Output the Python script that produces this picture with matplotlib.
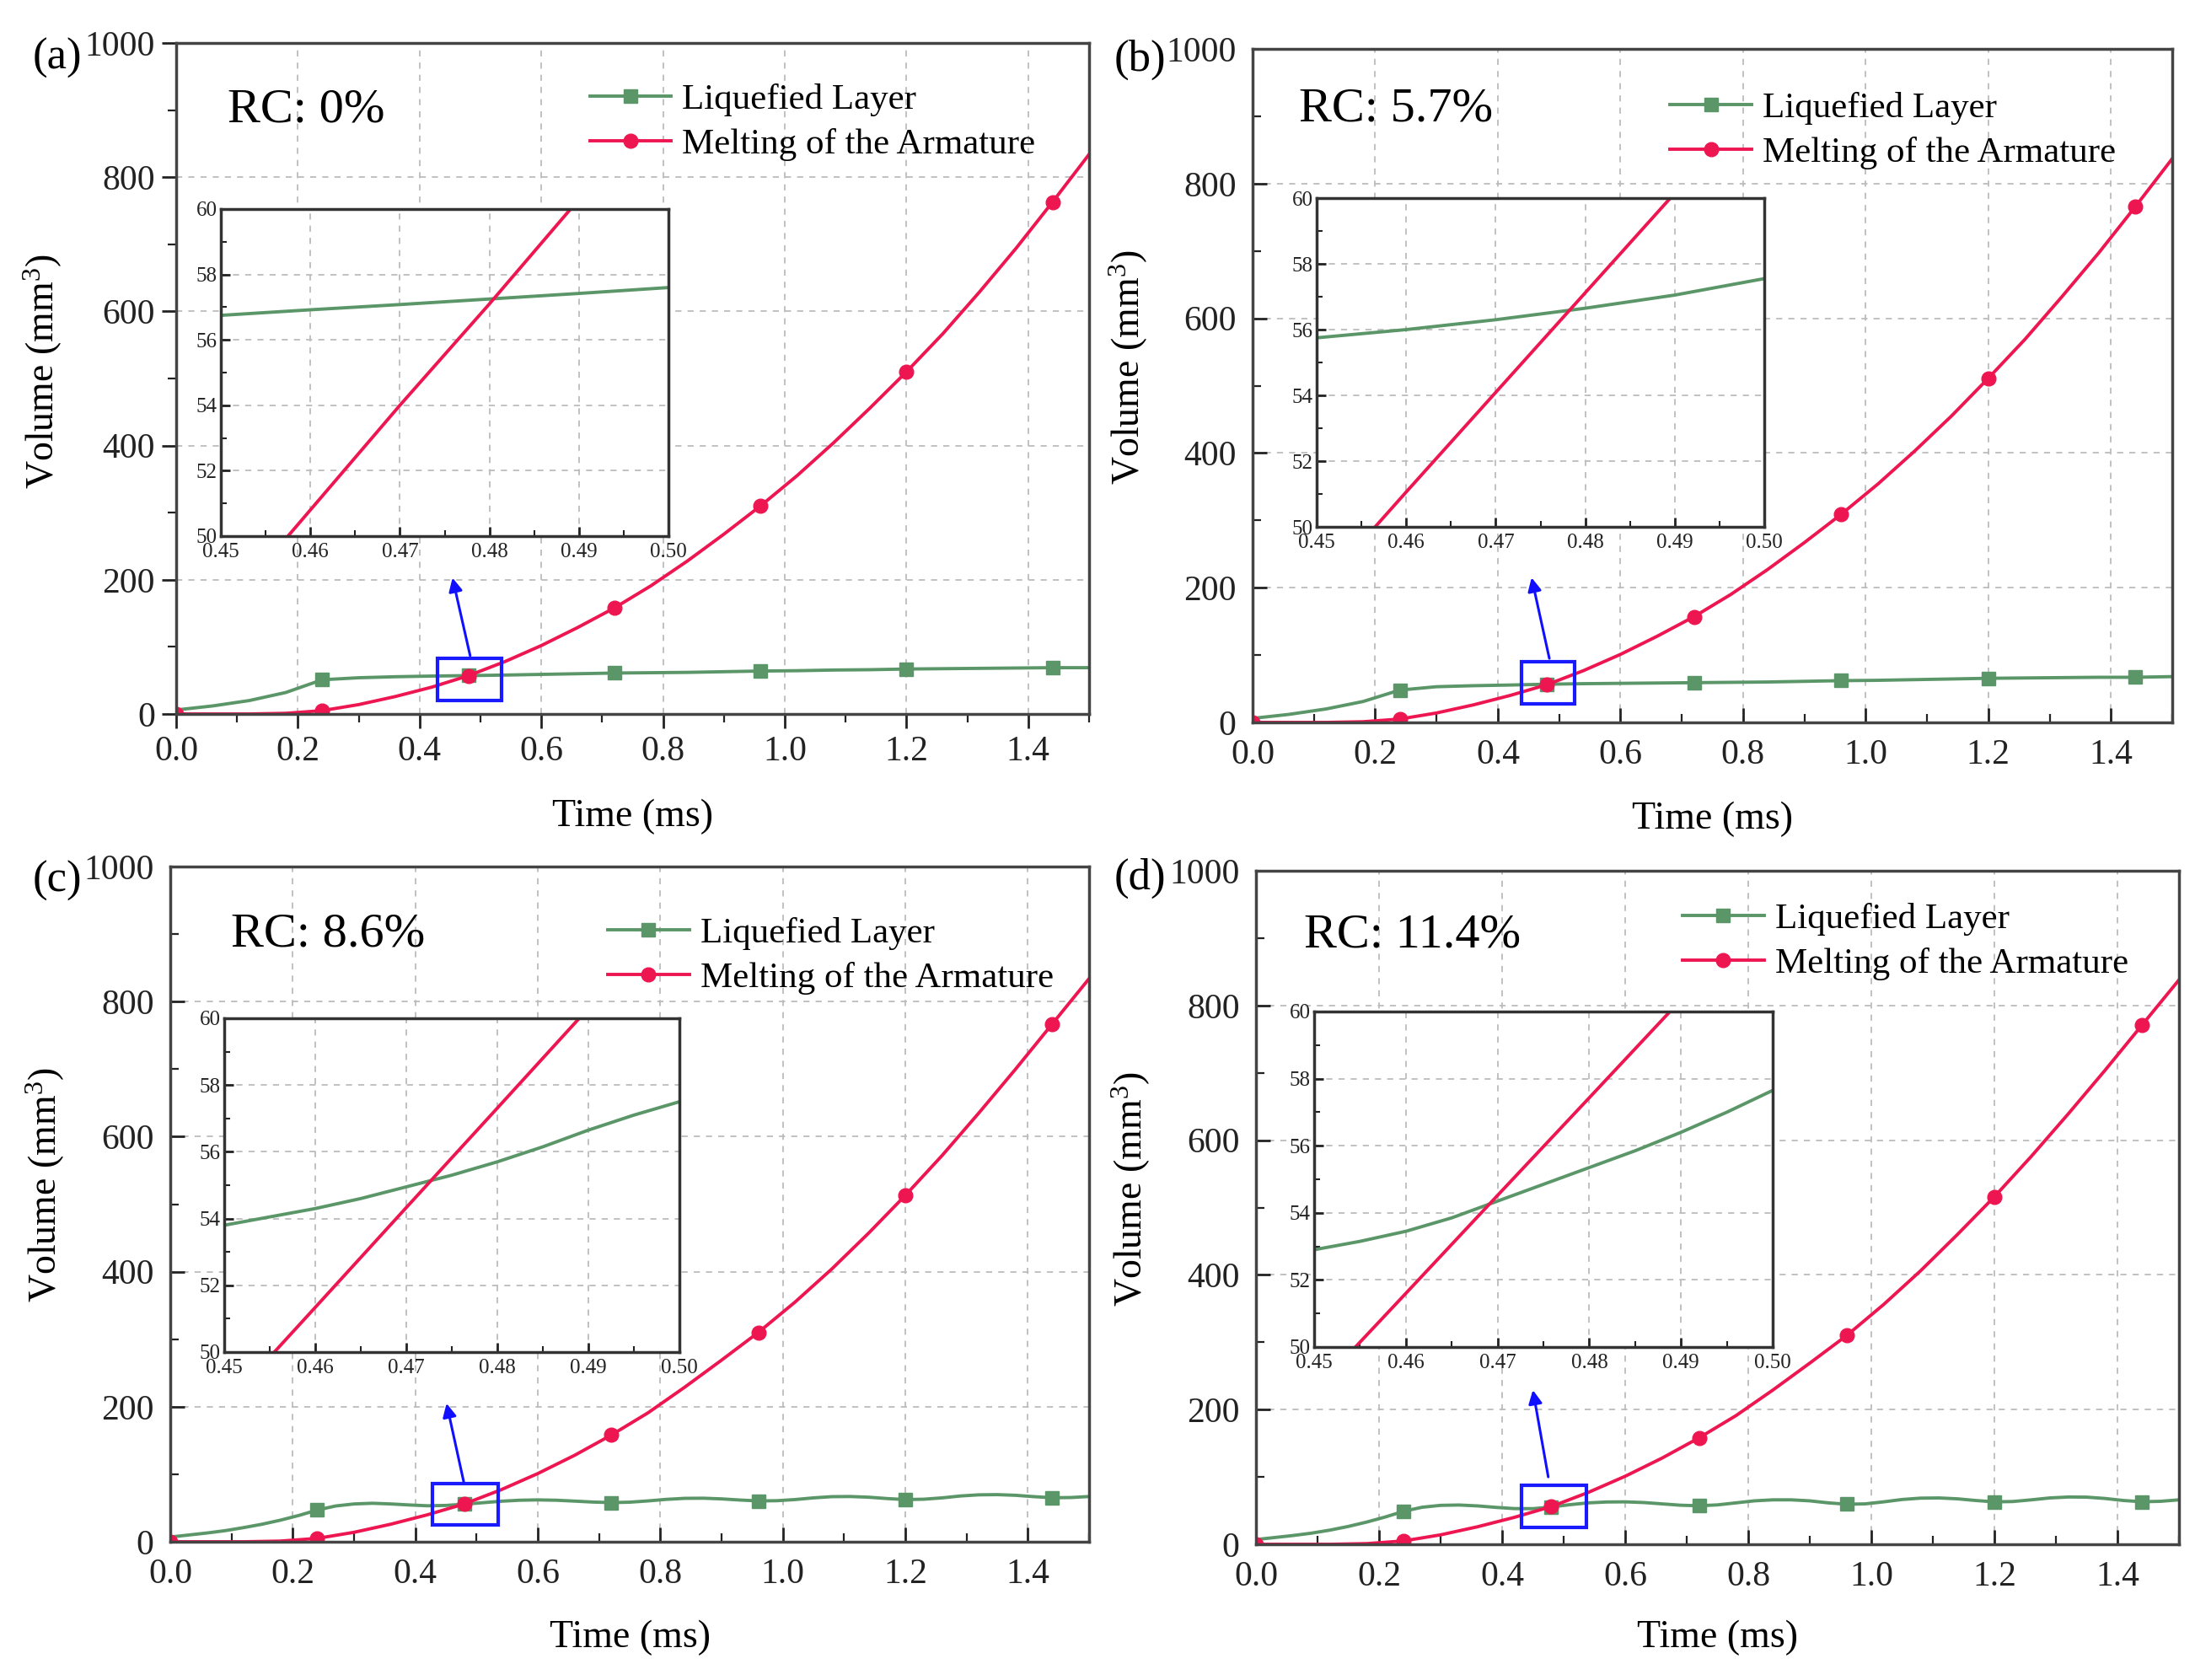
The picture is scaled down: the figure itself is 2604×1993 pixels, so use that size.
import numpy as np
import matplotlib
matplotlib.use('Agg')
import matplotlib.pyplot as plt
from matplotlib.patches import Rectangle
from matplotlib.ticker import MultipleLocator, FormatStrFormatter

plt.rcParams['font.family'] = 'serif'
plt.rcParams['font.serif'] = ['Liberation Serif', 'DejaVu Serif']
plt.rcParams['mathtext.fontset'] = 'custom'
plt.rcParams['mathtext.rm'] = 'Liberation Serif'
plt.rcParams['mathtext.it'] = 'Liberation Serif:italic'

# ---- data ----
t = [0.00, 0.06, 0.12, 0.18, 0.24, 0.30, 0.36, 0.42, 0.48, 0.54, 0.60, 0.66, 0.72,
     0.78, 0.84, 0.90, 0.96, 1.02, 1.08, 1.14, 1.20, 1.26, 1.32, 1.38, 1.44, 1.50]
t_fine = [0.00, 0.03, 0.06, 0.09, 0.12, 0.15, 0.18, 0.21, 0.24, 0.27, 0.30, 0.33, 0.36,
          0.39, 0.42, 0.45, 0.48, 0.51, 0.54, 0.57, 0.60, 0.63, 0.66, 0.69, 0.72, 0.75,
          0.78, 0.81, 0.84, 0.87, 0.90, 0.93, 0.96, 0.99, 1.02, 1.05, 1.08, 1.11, 1.14,
          1.17, 1.20, 1.23, 1.26, 1.29, 1.32, 1.35, 1.38, 1.41, 1.44, 1.47, 1.50]

melt_a = [0, 0, 0, 1, 5, 14, 26, 40, 57, 78, 102, 129, 158, 191, 228, 268, 310, 355,
          404, 456, 510, 567, 629, 694, 763, 834]
melt_b = [0, 0, 0, 1, 5, 14, 26, 40, 56, 77, 101, 128, 157, 190, 227, 267, 309, 354,
          403, 455, 511, 569, 632, 697, 766, 837]
melt_c = [0, 0, 0, 1, 5, 14, 26, 40, 56, 77, 101, 128, 158, 191, 229, 269, 310, 355,
          404, 457, 513, 572, 635, 700, 767, 834]
melt_d = [0, 0, 0, 1, 5, 14, 26, 40, 56, 77, 101, 128, 158, 191, 229, 269, 310, 356,
          406, 460, 516, 576, 639, 704, 771, 838]

liq_a = [6, 12, 20, 32, 51, 54, 55.5, 56.5, 57.2, 58, 59, 60, 61, 61.5, 62, 63, 64,
         64.5, 65.5, 66, 67, 67.5, 68, 68.5, 69, 69]
liq_b = [6, 12, 20, 31, 48, 53, 54.5, 55.5, 56.7, 57.5, 58, 58.5, 59, 59.5, 60, 61, 62,
         62.5, 63.5, 64.5, 65.5, 66, 66.5, 67, 67, 68]
liq_c = [7, 10, 13, 16.5, 21, 26, 32, 39, 47, 53, 56, 57, 56, 54.5, 53.3, 53.8, 55.7,
         57.8, 60, 61.5, 62, 61.5, 60.2, 58.8, 58, 58.6, 60.5, 62.8, 64.3, 64.5, 63.5,
         61.8, 60.5, 60.8, 62.5, 65, 66.8, 67, 66, 64, 62.5, 63, 65, 67.8, 69.5, 69.8,
         68.8, 66.8, 65.2, 65.5, 67]
liq_d = [7, 10, 13, 16.5, 21, 26.5, 33, 40.5, 49, 55, 57.8, 58.3, 57, 54.8, 53, 52.9,
         55.35, 58.8, 61.5, 62.8, 63, 62, 60, 58, 57.2, 58.5, 61.5, 64.5, 66, 66, 64.5,
         61.5, 59.5, 60, 63, 66.5, 68.5, 68.8, 67.5, 65, 63, 63.5, 66, 68.8, 70.2, 70,
         68, 65, 63.2, 63.8, 66]

# zoomed insets (0.45 - 0.50 ms)
t_in = [0.45, 0.46, 0.47, 0.48, 0.49, 0.50]
t_in_fine = [0.45, 0.455, 0.46, 0.465, 0.47, 0.475, 0.48, 0.485, 0.49, 0.495, 0.50]
melt_in_a = [47.6, 50.8, 54.0, 57.1, 60.3, 63.5]
melt_in_b = [48.0, 51.06, 54.09, 57.12, 60.15, 63.18]
melt_in_c = [48.36, 51.34, 54.33, 57.31, 60.3, 63.28]
melt_in_d = [48.69, 51.6, 54.52, 57.43, 60.35, 63.26]
liq_in_a = [56.75, 56.92, 57.08, 57.25, 57.42, 57.6]
liq_in_b = [55.75, 56.0, 56.3, 56.65, 57.05, 57.55]
liq_in_c = [53.8, 54.05, 54.3, 54.6, 54.95, 55.3, 55.7, 56.15, 56.65, 57.1, 57.5]
liq_in_d = [52.9, 53.15, 53.45, 53.85, 54.35, 54.85, 55.35, 55.85, 56.4, 57.0, 57.65]

panel_labels = ['(a)', '(b)', '(c)', '(d)']
rc_labels = ['RC: 0%', 'RC: 5.7%', 'RC: 8.6%', 'RC: 11.4%']

W, H = 2604, 1993
GREEN = '#5b9669'
RED = '#ee1651'

def frac(l, t_, r, b):
    return [l / W, 1 - b / H, (r - l) / W, (b - t_) / H]

panels = [
    dict(main=(209, 51, 1292, 847), inset=(262, 248, 793, 636), lab=(68, 69),
         t_liq=t, liq=liq_a, melt=melt_a, liq_in_t=t_in, liq_in=liq_in_a, melt_in=melt_in_a,
         tickdir='out', leg=(0.453, 0.94), rc=(0.056, 0.90),
         rect=(0.429, 20, 0.535, 83), arrow=((0.483, 87), (0.454, 203)), yl=(-0.146, 0.51), xl=-0.153),
    dict(main=(1486, 58, 2577, 857), inset=(1562, 235, 2093, 625), lab=(1352, 71),
         t_liq=t, liq=liq_b, melt=melt_b, liq_in_t=t_in, liq_in=liq_in_b, melt_in=melt_in_b,
         tickdir='in', leg=(0.454, 0.936), rc=(0.05, 0.91),
         rect=(0.439, 27, 0.525, 90), arrow=((0.484, 95), (0.455, 215)), yl=(-0.135, 0.527), xl=-0.144),
    dict(main=(202, 1028, 1292, 1829), inset=(266, 1208, 806, 1604), lab=(68, 1045),
         t_liq=t_fine, liq=liq_c, melt=melt_c, liq_in_t=t_in_fine, liq_in=liq_in_c, melt_in=melt_in_c,
         tickdir='in', leg=(0.476, 0.925), rc=(0.066, 0.899),
         rect=(0.428, 25, 0.535, 86), arrow=((0.479, 89), (0.451, 205)), yl=(-0.136, 0.528), xl=-0.142),
    dict(main=(1490, 1033, 2585, 1832), inset=(1559, 1200, 2103, 1598), lab=(1352, 1042),
         t_liq=t_fine, liq=liq_d, melt=melt_d, liq_in_t=t_in_fine, liq_in=liq_in_d, melt_in=melt_in_d,
         tickdir='in', leg=(0.462, 0.952), rc=(0.052, 0.904),
         rect=(0.431, 25, 0.537, 88), arrow=((0.475, 100), (0.45, 229)), yl=(-0.135, 0.527), xl=-0.139),
]

fig = plt.figure(figsize=(W / 100, H / 100), dpi=100)

for i, p in enumerate(panels):
    ax = fig.add_axes(frac(*p['main']))
    ax.set_axisbelow(True)
    ax.grid(True, color='#bcbcbc', linestyle=(0, (4, 4)), linewidth=1.3)

    step = 4 if p['t_liq'] is t else 8
    ax.plot(p['t_liq'], p['liq'], color=GREEN, lw=2.8, marker='s', markersize=11,
            markevery=slice(step, None, step), label='Liquefied Layer')
    ax.plot(t, p['melt'], color=RED, lw=2.8, marker='o', markersize=12,
            markevery=4, label='Melting of the Armature')

    ax.set_xlim(0, 1.5)
    ax.set_ylim(0, 1000)
    ax.xaxis.set_major_locator(MultipleLocator(0.2))
    ax.xaxis.set_minor_locator(MultipleLocator(0.1))
    ax.yaxis.set_major_locator(MultipleLocator(200))
    ax.yaxis.set_minor_locator(MultipleLocator(100))
    ax.xaxis.set_major_formatter(FormatStrFormatter('%.1f'))
    pad = 6 if p['tickdir'] == 'out' else 14
    ax.tick_params(which='major', direction=p['tickdir'], length=12, width=2,
                   labelsize=30, pad=pad, colors='#222222')
    ax.tick_params(which='minor', direction=p['tickdir'], length=7, width=1.6, colors='#222222')
    for s in ax.spines.values():
        s.set_linewidth(2.5)
        s.set_color('#444444')

    ax.set_xlabel('Time (ms)', fontsize=33)
    ax.set_ylabel('Volume (mm$^3$)', fontsize=33)
    ax.xaxis.set_label_coords(0.5, p['xl'])
    ax.xaxis.label.set_va('center')
    ax.yaxis.set_label_coords(*p['yl'])
    ax.yaxis.label.set_va('center')

    ax.legend(loc='upper left', bbox_to_anchor=p['leg'], frameon=False, fontsize=31,
              handlelength=2.25, handletextpad=0.3, labelspacing=0.32,
              borderpad=0, borderaxespad=0)
    ax.text(p['rc'][0], p['rc'][1], rc_labels[i], transform=ax.transAxes,
            fontsize=42, ha='left', va='center')

    x0, y0, x1, y1 = p['rect']
    ax.add_patch(Rectangle((x0, y0), x1 - x0, y1 - y0, fill=False,
                           edgecolor='#1a1aff', lw=3, zorder=4))
    (tx, ty), (hx, hy) = p['arrow']
    ax.annotate('', xy=(hx, hy), xytext=(tx, ty),
                arrowprops=dict(arrowstyle='-|>', color='#1010ff', lw=2.2,
                                mutation_scale=24, shrinkA=0, shrinkB=0), zorder=4)

    fig.text(p['lab'][0] / W, 1 - p['lab'][1] / H, panel_labels[i],
             fontsize=38, ha='center', va='center')

    # inset
    axi = fig.add_axes(frac(*p['inset']), zorder=5)
    axi.set_axisbelow(True)
    axi.grid(True, color='#bcbcbc', linestyle=(0, (4, 4)), linewidth=1.3)
    axi.plot(p['liq_in_t'], p['liq_in'], color=GREEN, lw=2.8)
    axi.plot(t_in, p['melt_in'], color=RED, lw=2.8)
    axi.set_xlim(0.45, 0.50)
    axi.set_ylim(50, 60)
    axi.xaxis.set_major_locator(MultipleLocator(0.01))
    axi.xaxis.set_minor_locator(MultipleLocator(0.005))
    axi.yaxis.set_major_locator(MultipleLocator(2))
    axi.yaxis.set_minor_locator(MultipleLocator(1))
    axi.xaxis.set_major_formatter(FormatStrFormatter('%.2f'))
    axi.yaxis.set_major_formatter(FormatStrFormatter('%d'))
    axi.tick_params(which='major', direction='in', length=8, width=2,
                    labelsize=18, pad=3, colors='#222222')
    axi.tick_params(axis='x', which='major', pad=6)
    axi.tick_params(which='minor', direction='in', length=5, width=1.5, colors='#222222')
    for s in axi.spines.values():
        s.set_linewidth(2.5)
        s.set_color('#333333')

fig.savefig('out.png', dpi=100)
